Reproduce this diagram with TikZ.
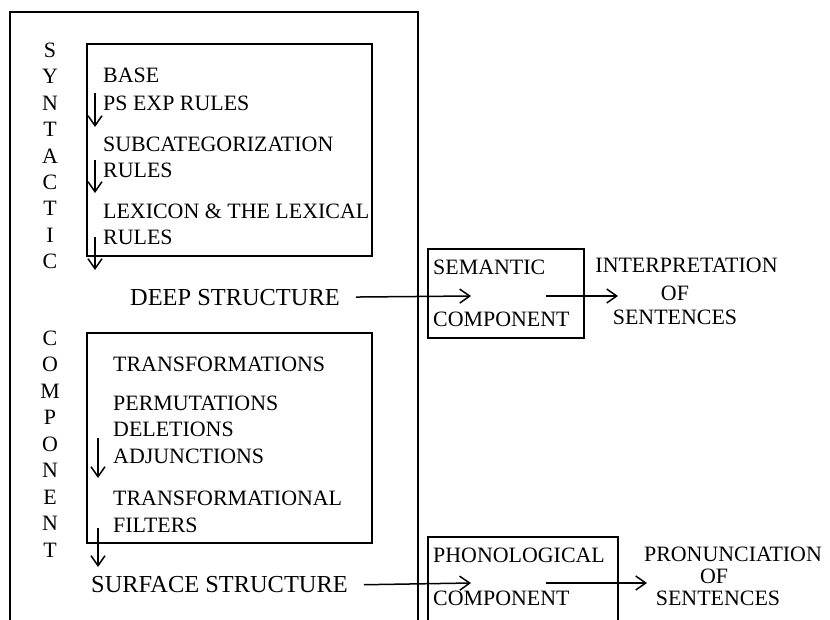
\documentclass[tikz,border=0pt]{standalone}
\usepackage{fontspec}
\setmainfont{Liberation Serif}
\usetikzlibrary{
    arrows.meta
}

\begin{document}
\begin{tikzpicture}[x=1bp, y=-1bp, >={Straight Barb[length=10bp,width=14bp]},
        word/.style={inner sep=0pt, font=\fontsize{22}{26}\selectfont},
        bigword/.style={inner sep=0pt, font=\fontsize{24.5}{29}\selectfont},
        flow/.style={->, line width=1.5bp},
        frame/.style={line width=1.2bp}]
        \useasboundingbox (0,0) rectangle (830,620);
        \clip (0,0) rectangle (830,620);

        % Syntactic component frame (open at the bottom)
        \draw[line width=1.5bp] (10,640) -- (10,12) -- (418,12) -- (418,640);

        % Vertical titles
        \foreach \ch [count=\i from 0] in {S,Y,N,T,A,C,T,I,C}
            \node[word, anchor=base] (syn\i) at (50, 57.5+26.4*\i) {\ch};
        \foreach \ch [count=\i from 0] in {C,O,M,P,O,N,E,N,T}
            \node[word, anchor=base] (comp\i) at (50, 345+26.5*\i) {\ch};

        % Base
        \draw[frame] (87,44) rectangle (372,256);
        \node[word, anchor=base west] (base) at (103,83) {BASE};
        \node[word, anchor=base west] (psrules) at (103,111) {PS EXP RULES};
        \node[word, anchor=base west] (subcat) at (103,151.7) {SUBCATEGORIZATION};
        \node[word, anchor=base west] (subrules) at (103,178) {RULES};
        \node[word, anchor=base west] (lexicon) at (103,219) {LEXICON \& THE LEXICAL};
        \node[word, anchor=base west] (lexrules) at (103,245) {RULES};

        \coordinate (A1) at (95,93);   \coordinate (A2) at (95,127);
        \coordinate (B1) at (95,160);  \coordinate (B2) at (95,193);
        \coordinate (C1) at (95,237);  \coordinate (C2) at (95,270);
        \draw[flow] (A1) -- (A2);
        \draw[flow] (B1) -- (B2);
        \draw[flow] (C1) -- (C2);

        \node[bigword, anchor=base west] (deep) at (130,305) {DEEP STRUCTURE};

        % Transformations
        \draw[frame] (87,333) rectangle (372,543);
        \node[word, anchor=base west] (trans) at (113,371.7) {TRANSFORMATIONS};
        \node[word, anchor=base west] (perm) at (113,410) {PERMUTATIONS};
        \node[word, anchor=base west] (del) at (113,436.7) {DELETIONS};
        \node[word, anchor=base west] (adj) at (113,463) {ADJUNCTIONS};
        \node[word, anchor=base west] (tfilt) at (113,505.7) {TRANSFORMATIONAL};
        \node[word, anchor=base west] (filt) at (113,532.7) {FILTERS};

        \coordinate (D1) at (98,438);  \coordinate (D2) at (98,478);
        \coordinate (E1) at (98,528);  \coordinate (E2) at (98,567);
        \draw[flow] (D1) -- (D2);
        \draw[flow] (E1) -- (E2);

        \node[bigword, anchor=base west] (surf) at (91,592.7) {SURFACE STRUCTURE};

        % Semantic component
        \draw[frame] (428,249) rectangle (584,338);
        \node[word, anchor=base west] (sem) at (433,274) {SEMANTIC};
        \node[word, anchor=base west] (semcomp) at (433,326.7) {COMPONENT};
        \coordinate (semin) at (471,296);
        \coordinate (semout) at (546,296);
        \coordinate (interpin) at (618,296);
        \draw[flow] ([xshift=16bp]deep.east) -- (semin);
        \draw[flow] (semout) -- (interpin);

        \node[word, anchor=base] (interp) at (686.5,272.3) {INTERPRETATION};
        \node[word, anchor=base] (interpof) at (675,300) {OF};
        \node[word, anchor=base] (interpsen) at (675,324.3) {SENTENCES};

        % Phonological component
        \draw[frame] (428,640) -- (428,537) -- (618,537) -- (618,640);
        \node[word, anchor=base west] (phon) at (433,562.7) {PHONOLOGICAL};
        \node[word, anchor=base west] (phoncomp) at (433,605) {COMPONENT};
        \coordinate (phonin) at (471,583);
        \coordinate (phonout) at (546,583);
        \coordinate (pronin) at (647,583);
        \draw[flow] ([xshift=16bp]surf.east) -- (phonin);
        \draw[flow] (phonout) -- (pronin);

        \node[word, anchor=base] (pron) at (733,561) {PRONUNCIATION};
        \node[word, anchor=base] (pronof) at (714,583.3) {OF};
        \node[word, anchor=base] (pronsen) at (718,605) {SENTENCES};
    \end{tikzpicture}
\end{document}
